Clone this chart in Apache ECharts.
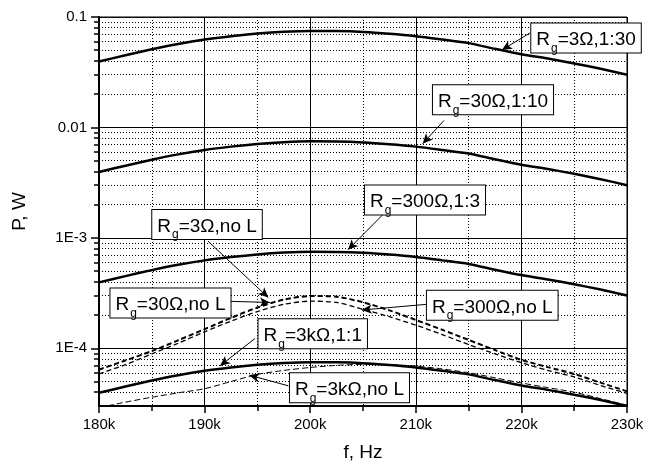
<!DOCTYPE html>
<html><head><meta charset="utf-8">
<script src="https://cdn.jsdelivr.net/npm/echarts@6/dist/echarts.min.js"></script>
<style>html,body{margin:0;padding:0;background:#fff}#c{width:655px;height:467px}</style>
</head><body><div id="c"></div>
<script>
// frequency in kHz
const freqK = [180,182.5,185,187.5,190,192.5,195,197.5,200,202.5,205,207.5,210,212.5,215,217.5,220,222.5,225,227.5,230];
// P, W
const rg3_1to30  = [0.0395,0.045,0.051,0.057,0.0625,0.067,0.0708,0.0735,0.0748,0.0746,0.0732,0.0705,0.067,0.0625,0.058,0.0515,0.046,0.042,0.038,0.034,0.030];
const rg30_1to10 = [0.00395,0.0045,0.0051,0.0057,0.00625,0.0067,0.00708,0.00735,0.00748,0.00746,0.00732,0.00705,0.0067,0.00625,0.0058,0.00515,0.0046,0.0042,0.0038,0.0034,0.0030];
const rg300_1to3 = [0.000395,0.00045,0.00051,0.00057,0.000625,0.00067,0.000708,0.000735,0.000748,0.000746,0.000732,0.000705,0.00067,0.000625,0.00058,0.000515,0.00046,0.00042,0.00038,0.00034,0.00030];
const rg3k_1to1  = [3.95e-5,4.5e-5,5.1e-5,5.7e-5,6.25e-5,6.7e-5,7.08e-5,7.35e-5,7.48e-5,7.46e-5,7.32e-5,7.05e-5,6.7e-5,6.25e-5,5.8e-5,5.15e-5,4.6e-5,4.2e-5,3.8e-5,3.4e-5,3.0e-5];
const rg3_noL    = [6.45e-5,7.8e-5,9.5e-5,1.19e-4,1.5e-4,1.9e-4,2.36e-4,2.78e-4,2.99e-4,2.95e-4,2.63e-4,2.22e-4,1.82e-4,1.48e-4,1.2e-4,9.7e-5,7.9e-5,6.8e-5,5.9e-5,4.9e-5,4.1e-5];
const rg30_noL   = [6.35e-5,7.7e-5,9.35e-5,1.17e-4,1.48e-4,1.87e-4,2.32e-4,2.74e-4,2.95e-4,2.91e-4,2.59e-4,2.19e-4,1.79e-4,1.46e-4,1.18e-4,9.55e-5,7.8e-5,6.7e-5,5.8e-5,4.85e-5,4.05e-5];
const rg300_noL  = [5.85e-5,7.1e-5,8.9e-5,1.11e-4,1.41e-4,1.76e-4,2.15e-4,2.5e-4,2.67e-4,2.6e-4,2.25e-4,1.93e-4,1.62e-4,1.33e-4,1.08e-4,8.9e-5,7.4e-5,6.3e-5,5.5e-5,4.6e-5,3.9e-5];
const rg3k_noL   = [2.9e-5,3.25e-5,3.6e-5,3.95e-5,4.3e-5,5.0e-5,5.8e-5,6.3e-5,6.7e-5,7.0e-5,7.15e-5,7.1e-5,6.9e-5,6.5e-5,6.0e-5,5.4e-5,4.85e-5,4.4e-5,4.0e-5,3.5e-5,3.05e-5];

const xTicks = [180,190,200,210,220,230];
const xTickLabels = ['180k','190k','200k','210k','220k','230k'];
const yMajor = [1e-4,1e-3,1e-2,1e-1];
const yMajorLabels = ['1E-4','1E-3','0.01','0.1'];
const yMinor = [4e-5,5e-5,6e-5,7e-5,8e-5,9e-5,2e-4,3e-4,4e-4,5e-4,6e-4,7e-4,8e-4,9e-4,2e-3,3e-3,4e-3,5e-3,6e-3,7e-3,8e-3,9e-3,2e-2,3e-2,4e-2,5e-2,6e-2,7e-2,8e-2,9e-2];

// annotation boxes: text after "R_g" and anchor (kHz, W)
const noteTexts = ['=3Ω,1:30','=30Ω,1:10','=300Ω,1:3','=3Ω,no L','=30Ω,no L','=300Ω,no L','=3kΩ,1:1','=3kΩ,no L'];
const noteAt = [[226.12,0.0646],[217.31,0.01778],[210.87,0.0022],[190.23,0.00132],[186.77,2.57e-4],[217.24,2.45e-4],[200.24,1.355e-4],[203.72,4.38e-5]];
const arrowFrom = [[220.81,0.0717],[212.67,0.01156],[206.89,0.001626],[190.32,9.33e-4],[192.41,2.66e-4],[211.03,2.5e-4],[194.77,1.225e-4],[197.93,4.57e-5]];
const arrowTo   = [[218.16,0.0503],[210.65,0.00713],[203.58,7.8e-4],[196.03,2.88e-4],[196.19,2.6e-4],[204.88,2.22e-4],[191.46,6.93e-5],[194.23,5.71e-5]];

const FONT = '"Liberation Sans", Arial, sans-serif';
const pairs = ys => freqK.map((f, i) => [f, ys[i]]);
const solid = (name, ys) => ({type:'line', name, data:pairs(ys), symbol:'none', smooth:0.25,
  lineStyle:{color:'#000', width:2.5}, z:5, silent:true});
const dashed = (name, ys, w, dash) => ({type:'line', name, data:pairs(ys), symbol:'none', smooth:0.25,
  lineStyle:{color:'#000', width:w, type:dash}, z:4, silent:true});

const annot = {
  type:'line', name:'notes', data:[], silent:true, z:10,
  markLine:{
    silent:true, symbol:['none','arrow'], symbolSize:[7,10], animation:false,
    lineStyle:{color:'#000', width:1, type:'solid'}, label:{show:false},
    data: arrowFrom.map((a, i) => [{coord:a}, {coord:arrowTo[i]}])
  },
  markPoint:{
    silent:true, animation:false, symbol:'circle', symbolSize:1, itemStyle:{color:'rgba(0,0,0,0)'},
    label:{show:true, position:'inside', backgroundColor:'#fff', borderColor:'#000', borderWidth:1,
      padding:[7,5,2,5], color:'#000', fontFamily:FONT,
      formatter: p => '{r|R}{g|g}{t|' + noteTexts[p.dataIndex] + '}',
      rich:{
        r:{fontSize:19, lineHeight:20, verticalAlign:'top', fontFamily:FONT, color:'#000'},
        g:{fontSize:12, lineHeight:12, verticalAlign:'top', padding:[12,0,0,1], fontFamily:FONT, color:'#000'},
        t:{fontSize:19, lineHeight:20, verticalAlign:'top', fontFamily:FONT, color:'#000'}
      }},
    data: noteAt.map(c => ({coord:c}))
  }
};

const chart = echarts.init(document.getElementById('c'), null, {renderer:'canvas'});
chart.setOption({
  animation:false,
  backgroundColor:'#fff',
  grid:{left:99, right:28, top:17, bottom:60, show:true, borderColor:'#000', borderWidth:1, backgroundColor:'rgba(0,0,0,0)'},
  xAxis:{
    type:'value', min:180, max:230, interval:10,
    name:'f, Hz', nameLocation:'middle', nameGap:37,
    nameTextStyle:{fontSize:19, color:'#000', fontFamily:FONT},
    axisLine:{show:true, lineStyle:{color:'#000', width:2}},
    axisTick:{show:true, length:7, lineStyle:{color:'#000', width:1.5}},
    minorTick:{show:true, splitNumber:2, length:5, lineStyle:{color:'#000', width:1.5}},
    axisLabel:{fontSize:15, color:'#000', margin:11, fontFamily:FONT,
      formatter: v => { const i = xTicks.indexOf(v); return i >= 0 ? xTickLabels[i] : ''; }},
    splitLine:{show:true, lineStyle:{color:'#000', width:1}},
    minorSplitLine:{show:true, lineStyle:{color:'#000', width:1, type:[1,2]}}
  },
  yAxis:[{
    type:'log', logBase:10, min:3e-5, max:0.1,
    name:'P, W', nameLocation:'middle', nameGap:70,
    nameTextStyle:{fontSize:19, color:'#000', fontFamily:FONT},
    axisLine:{show:true, lineStyle:{color:'#000', width:2}},
    axisTick:{show:true, length:8, customValues:yMajor, lineStyle:{color:'#000', width:1.5}},
    axisLabel:{fontSize:15, color:'#000', margin:12, fontFamily:FONT, customValues:yMajor,
      formatter: v => { const i = yMajor.findIndex(m => Math.abs(Math.log10(m) - Math.log10(v)) < 1e-6); return i >= 0 ? yMajorLabels[i] : ''; }},
    splitLine:{show:true, lineStyle:{color:'#000', width:1}}
  },{
    type:'log', logBase:10, min:3e-5, max:0.1, position:'left',
    axisLine:{show:false},
    axisTick:{show:true, length:5, customValues:yMinor, lineStyle:{color:'#000', width:1.5}},
    axisLabel:{show:false, customValues:yMinor},
    splitLine:{show:true, lineStyle:{color:'#000', width:1, type:[1,2]}}
  }],
  series:[
    solid('Rg=3Ω,1:30', rg3_1to30),
    solid('Rg=30Ω,1:10', rg30_1to10),
    solid('Rg=300Ω,1:3', rg300_1to3),
    solid('Rg=3kΩ,1:1', rg3k_1to1),
    dashed('Rg=3Ω,no L', rg3_noL, 1.3, [5,3]),
    dashed('Rg=30Ω,no L', rg30_noL, 1.3, [5,3]),
    dashed('Rg=300Ω,no L', rg300_noL, 1.3, [5,3]),
    dashed('Rg=3kΩ,no L', rg3k_noL, 1, [6,3]),
    annot
  ]
});
</script>
</body></html>
